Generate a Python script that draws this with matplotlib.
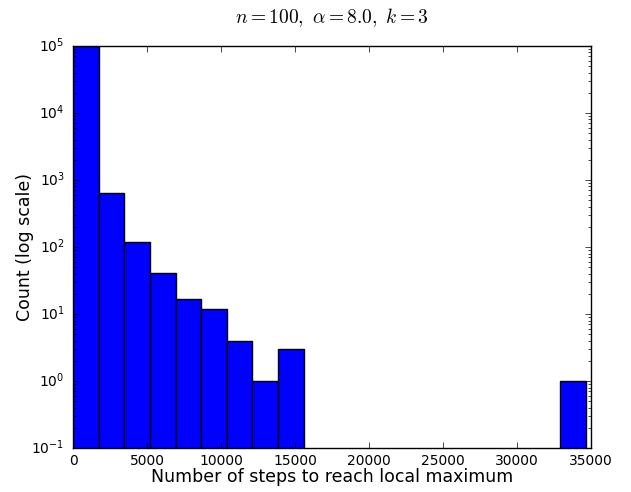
import matplotlib
matplotlib.use("Agg")
import matplotlib.pyplot as plt
import numpy as np

plt.style.use('classic')
plt.rcParams['mathtext.fontset'] = 'cm'
plt.rcParams['font.family'] = ['DejaVu Sans']

# Histogram data (20 equal bins from 0 to ~34640 steps)
bin_min = 0.0
bin_max = 34640.0
n_bins = 20
counts = [99158, 646, 117, 41, 17, 12, 4, 1, 3, 0, 0, 0, 0, 0, 0, 0, 0, 0, 0, 1]

edges = np.linspace(bin_min, bin_max, n_bins + 1)
centers = 0.5 * (edges[:-1] + edges[1:])

fig = plt.figure(figsize=(6.31, 4.92), dpi=100)
ax = fig.add_axes([0.1157, 0.0894, 0.8209, 0.8171])
ax.hist(centers, bins=edges, weights=counts, color='#0000ff', edgecolor='black', log=True)
ax.set_xlim(0, 35000)
ax.set_ylim(0.1, 1e5)
ax.tick_params(labelsize=10)
ax.tick_params(axis='y', which='major', pad=6)
ax.set_xlabel('Number of steps to reach local maximum', fontsize=12.5, labelpad=0)
ax.set_ylabel('Count (log scale)', fontsize=12.5, labelpad=-2)
ax.set_title(r'$n=100,\ \alpha=8.0,\ k=3$', fontsize=14, y=1.04)

fig.savefig('out.png', dpi=100)
